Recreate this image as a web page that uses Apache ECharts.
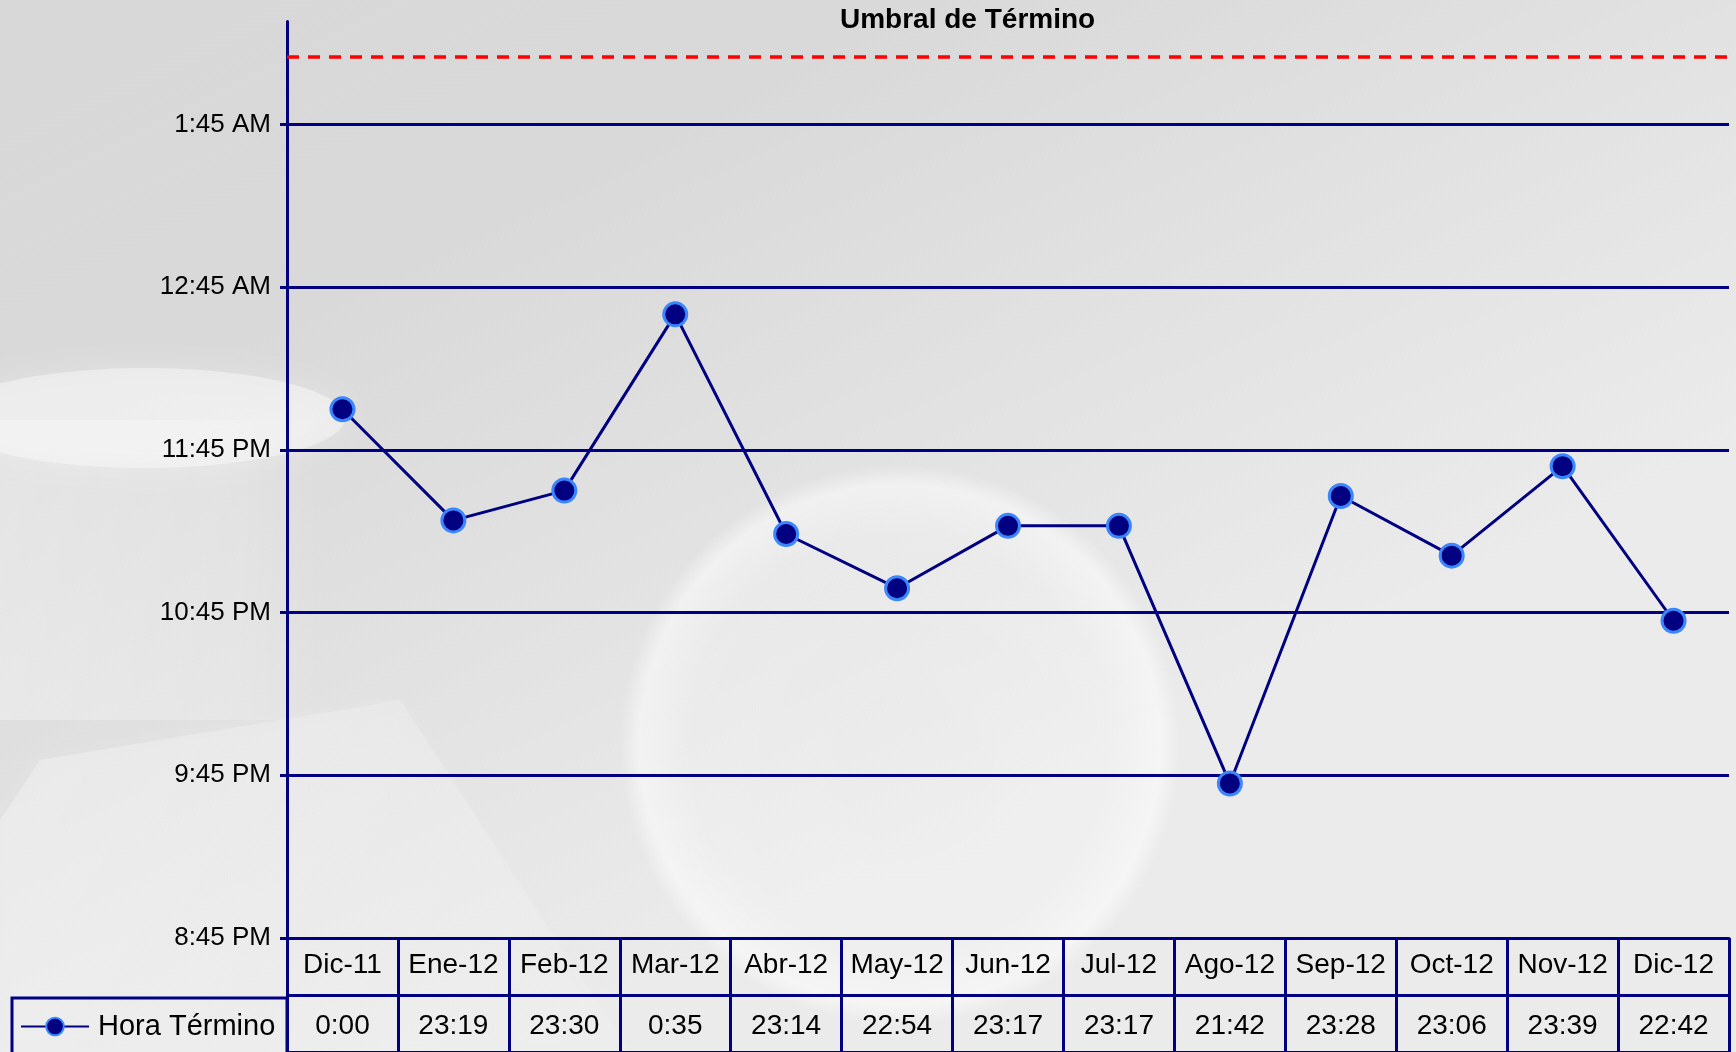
<!DOCTYPE html>
<html>
<head>
<meta charset="utf-8">
<title>Umbral de Término</title>
<script src="https://cdn.jsdelivr.net/npm/echarts@6/dist/echarts.min.js"></script>
<style>
    html, body { margin: 0; padding: 0; }
    #chart { width: 1736px; height: 1052px; }
</style>
</head>
<body>
<div id="chart"></div>
<script>
const categories = ['Dic-11', 'Ene-12', 'Feb-12', 'Mar-12', 'Abr-12', 'May-12', 'Jun-12',
    'Jul-12', 'Ago-12', 'Sep-12', 'Oct-12', 'Nov-12', 'Dic-12']
const horaTermino = ['0:00', '23:19', '23:30', '0:35', '23:14', '22:54', '23:17',
    '23:17', '21:42', '23:28', '23:06', '23:39', '22:42']
const yTickLabels = ['8:45 PM', '9:45 PM', '10:45 PM', '11:45 PM', '12:45 AM', '1:45 AM']
const umbral = '2:10'
const axisStart = '20:45'
const axisEnd = '2:23'

const font = "'Liberation Sans', Arial, sans-serif"
const navy = '#000080'

// minutes after 20:45, times after midnight belong to the next day
function toOffset(t) {
    const parts = t.split(':')
    const h = +parts[0]
    let mins = h * 60 + (+parts[1])
    if (h < 12) mins += 24 * 60
    const s = axisStart.split(':')
    return mins - (+s[0] * 60 + (+s[1]))
}

const values = horaTermino.map(toOffset)
const tickValues = yTickLabels.map((l, i) => i * 60)

const chart = echarts.init(document.getElementById('chart'))

// soft white shapes, a rough stand-in for the glass picture behind the chart
const glass = [
    {
        type: 'circle', z: -10, silent: true,
        shape: {cx: 900, cy: 745, r: 280},
        style: {
            fill: {
                type: 'radial', x: 0.5, y: 0.5, r: 0.5,
                colorStops: [
                    {offset: 0, color: 'rgba(255,255,255,0.12)'},
                    {offset: 0.75, color: 'rgba(255,255,255,0.22)'},
                    {offset: 0.93, color: 'rgba(255,255,255,0.5)'},
                    {offset: 1, color: 'rgba(255,255,255,0)'}
                ]
            }
        }
    },
    {
        type: 'rect', z: -11, silent: true,
        shape: {x: 0, y: 420, width: 320, height: 300},
        style: {
            fill: {
                type: 'linear', x: 0, y: 0, x2: 1, y2: 0,
                colorStops: [
                    {offset: 0, color: 'rgba(255,255,255,0.3)'},
                    {offset: 0.75, color: 'rgba(255,255,255,0.18)'},
                    {offset: 1, color: 'rgba(255,255,255,0)'}
                ]
            }
        }
    },
    {
        type: 'ellipse', z: -10, silent: true,
        shape: {cx: 145, cy: 418, rx: 200, ry: 50},
        style: {fill: 'rgba(255,255,255,0.4)', shadowBlur: 30, shadowColor: 'rgba(255,255,255,0.6)'}
    },
    {
        type: 'polygon', z: -10, silent: true,
        shape: {points: [[40, 760], [400, 700], [630, 1052], [0, 1052], [0, 820]]},
        style: {
            fill: {
                type: 'linear', x: 0, y: 0, x2: 1, y2: 1,
                colorStops: [
                    {offset: 0, color: 'rgba(255,255,255,0.3)'},
                    {offset: 1, color: 'rgba(255,255,255,0.08)'}
                ]
            },
            shadowBlur: 20, shadowColor: 'rgba(255,255,255,0.3)'
        }
    }
]

const option = {
    backgroundColor: {
        type: 'linear', x: 0, y: 0, x2: 0.3, y2: 1,
        colorStops: [
            {offset: 0, color: '#d8d8d8'},
            {offset: 0.35, color: '#d9d9d9'},
            {offset: 1, color: '#ebebeb'}
        ]
    },
    animation: false,
    title: {
        text: 'Umbral de Término',
        left: 840,
        top: 6,
        padding: 0,
        textStyle: {fontFamily: font, fontSize: 28, fontWeight: 'bold', color: '#000'}
    },
    legend: {
        data: ['Hora Término'],
        left: 20,
        top: 1012,
        padding: 0,
        itemWidth: 68,
        itemHeight: 22,
        itemGap: 6,
        textStyle: {fontFamily: font, fontSize: 29, color: '#000', padding: [0, 0, 0, 4]}
    },
    graphic: glass.concat([
        {
            type: 'rect', z: 10, silent: true,
            shape: {x: 12, y: 998, width: 275, height: 80},
            style: {fill: 'none', stroke: navy, lineWidth: 3}
        }
    ]),
    grid: [
        {left: 287, right: 7, top: 21.5, bottom: 114},
        {left: 287, right: 7, top: 938, height: 120}
    ],
    xAxis: [
        {
            type: 'category',
            gridIndex: 0,
            data: categories,
            boundaryGap: true,
            axisLine: {lineStyle: {color: navy, width: 3}},
            axisTick: {show: false},
            axisLabel: {show: false},
            splitLine: {show: false}
        },
        {
            type: 'category',
            gridIndex: 1,
            data: categories,
            boundaryGap: true,
            axisLine: {show: false},
            axisTick: {show: false},
            axisLabel: {show: false},
            splitLine: {show: true, interval: 0, lineStyle: {color: navy, width: 3}}
        }
    ],
    yAxis: [
        {
            type: 'value',
            gridIndex: 0,
            min: 0,
            max: toOffset(axisEnd),
            interval: 60,
            axisLine: {show: true, lineStyle: {color: navy, width: 3}},
            axisTick: {show: true, length: 7, customValues: tickValues, lineStyle: {color: navy, width: 3}},
            axisLabel: {
                customValues: tickValues,
                margin: 16,
                fontFamily: font,
                fontSize: 26,
                color: '#000',
                formatter: v => (v % 60 === 0 ? yTickLabels[v / 60] || '' : '')
            },
            splitLine: {show: true, showMinLine: false, lineStyle: {color: navy, width: 3}}
        },
        {
            type: 'value',
            gridIndex: 1,
            min: 0,
            max: 2,
            interval: 1,
            axisLine: {show: true, lineStyle: {color: navy, width: 3}},
            axisTick: {show: false},
            axisLabel: {show: false},
            splitLine: {show: true, lineStyle: {color: navy, width: 3}}
        }
    ],
    series: [
        {
            name: 'Hora Término',
            type: 'line',
            xAxisIndex: 0,
            yAxisIndex: 0,
            data: values,
            symbol: 'circle',
            symbolSize: 23,
            lineStyle: {color: navy, width: 3},
            itemStyle: {color: navy, borderColor: '#3a86ff', borderWidth: 3},
            z: 5,
            markLine: {
                silent: true,
                symbol: 'none',
                label: {show: false},
                lineStyle: {color: '#ff0000', width: 3.5, type: [12, 9]},
                data: [{yAxis: toOffset(umbral)}]
            }
        },
        {
            name: 'tabla',
            type: 'custom',
            xAxisIndex: 1,
            yAxisIndex: 1,
            data: categories.map((c, i) => [i, 1.53, c]).concat(horaTermino.map((t, i) => [i, 0.45, t])),
            renderItem: function (params, api) {
                const p = api.coord([api.value(0), api.value(1)])
                return {
                    type: 'text',
                    x: p[0],
                    y: p[1],
                    style: {
                        text: String(api.value(2)),
                        fontFamily: font,
                        fontSize: 28,
                        fill: '#000',
                        align: 'center',
                        verticalAlign: 'middle'
                    }
                }
            },
            z: 6
        }
    ]
}

chart.setOption(option)
</script>
</body>
</html>
